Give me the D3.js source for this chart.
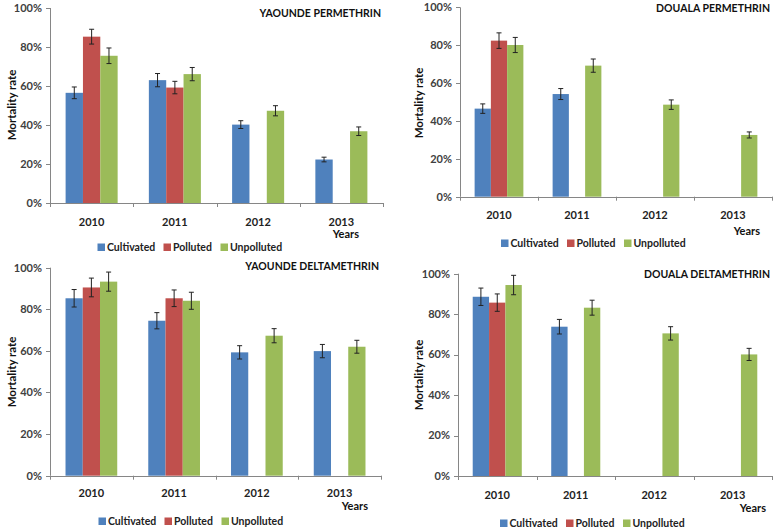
<!DOCTYPE html>
<html><head><meta charset="utf-8">
<script src="https://cdn.jsdelivr.net/npm/d3@7"></script>
<style>
body{margin:0;background:#fff;}
svg{display:block;font-family:Lato,"Open Sans",sans-serif;}
</style></head>
<body><svg id="c" width="778" height="530"></svg>
<script>
const years = ["2010","2011","2012","2013"];
const seriesNames = ["Cultivated","Polluted","Unpolluted"];
const seriesColors = ["#4F81BD","#C0504D","#9BBB59"];
const yTicks = [0,0.2,0.4,0.6,0.8,1.0];
const titles = ["YAOUNDE PERMETHRIN","DOUALA PERMETHRIN","YAOUNDE DELTAMETHRIN","DOUALA DELTAMETHRIN"];

// Yaounde Permethrin
const ypCultivated = [0.565,0.630,0.402,0.223];
const ypPolluted   = [0.853,0.592,null,null];
const ypUnpolluted = [0.755,0.661,0.473,0.368];
const ypCultErr = [0.030,0.034,0.020,0.012];
const ypPollErr = [0.038,0.032,null,null];
const ypUnpErr  = [0.040,0.034,0.026,0.022];
// Douala Permethrin
const dpCultivated = [0.465,0.542,null,null];
const dpPolluted   = [0.824,null,null,null];
const dpUnpolluted = [0.801,0.692,0.486,0.326];
const dpCultErr = [0.025,0.029,null,null];
const dpPollErr = [0.041,null,null,null];
const dpUnpErr  = [0.040,0.035,0.025,0.016];
// Yaounde Deltamethrin
const ydCultivated = [0.853,0.745,0.593,0.599];
const ydPolluted   = [0.905,0.853,null,null];
const ydUnpolluted = [0.933,0.841,0.673,0.620];
const ydCultErr = [0.042,0.039,0.032,0.032];
const ydPollErr = [0.045,0.040,null,null];
const ydUnpErr  = [0.046,0.041,0.034,0.031];
// Douala Deltamethrin
const ddCultivated = [0.886,0.738,null,null];
const ddPolluted   = [0.857,null,null,null];
const ddUnpolluted = [0.944,0.832,0.705,0.601];
const ddCultErr = [0.043,0.036,null,null];
const ddPollErr = [0.043,null,null,null];
const ddUnpErr  = [0.048,0.037,0.033,0.030];

const panelData = [
  {vals:[ypCultivated,ypPolluted,ypUnpolluted], errs:[ypCultErr,ypPollErr,ypUnpErr]},
  {vals:[dpCultivated,dpPolluted,dpUnpolluted], errs:[dpCultErr,dpPollErr,dpUnpErr]},
  {vals:[ydCultivated,ydPolluted,ydUnpolluted], errs:[ydCultErr,ydPollErr,ydUnpErr]},
  {vals:[ddCultivated,ddPolluted,ddUnpolluted], errs:[ddCultErr,ddPollErr,ddUnpErr]}
];

// layout (pixel geometry per panel)
const layout = [
  {x0:50, x1:383, yTop:8,     yBot:203,  titleY:17,  tickY:222, yearsY:234, yearsX:359, legY:247, legX:97.5, ylabX:12,  ylabY:105},
  {x0:460,x1:772, yTop:7.3,   yBot:196.7,titleY:12,  tickY:215, yearsY:231, yearsX:760, legY:243, legX:501,  ylabX:419, ylabY:103},
  {x0:50, x1:381, yTop:267.7, yBot:475.7,titleY:270, tickY:493, yearsY:506, yearsX:368, legY:521, legX:98.5, ylabX:12,  ylabY:372},
  {x0:458,x1:772, yTop:273.7, yBot:476,  titleY:278, tickY:495, yearsY:508, yearsX:766, legY:523, legX:500,  ylabX:419, ylabY:375}
];

const svg = d3.select("#c");
const axisColor = "#868686";

layout.forEach((L, pi) => {
  const g = svg.append("g");
  const D = panelData[pi];
  const x = d3.scaleBand().domain(years).range([L.x0, L.x1]).paddingInner(0.375).paddingOuter(0.1875);
  const xs = d3.scaleBand().domain(seriesNames).range([0, x.bandwidth()]);
  const y = d3.scaleLinear().domain([0,1]).range([L.yBot, L.yTop]);

  // y axis
  g.append("line").attr("x1",L.x0+0.5).attr("x2",L.x0+0.5).attr("y1",y(0)).attr("y2",y(1)).attr("stroke",axisColor);
  g.selectAll(".yt").data(yTicks).enter().append("line")
    .attr("x1",L.x0-4).attr("x2",L.x0).attr("y1",d=>Math.round(y(d))+0.5).attr("y2",d=>Math.round(y(d))+0.5).attr("stroke",axisColor);
  g.selectAll(".yl").data(yTicks).enter().append("text")
    .attr("x",L.x0-8).attr("y",d=>y(d)).attr("dy","0.35em").attr("text-anchor","end")
    .attr("font-size",11).attr("font-weight","bold").attr("fill","#404040")
    .text(d=>d3.format(".0%")(d));

  // x axis
  g.append("line").attr("x1",L.x0).attr("x2",L.x1).attr("y1",Math.round(y(0))+0.5).attr("y2",Math.round(y(0))+0.5).attr("stroke",axisColor);
  const bounds = d3.range(years.length+1).map(i => L.x0 + i*x.step());
  g.selectAll(".xt").data(bounds).enter().append("line")
    .attr("x1",d=>Math.round(d)+0.5).attr("x2",d=>Math.round(d)+0.5).attr("y1",y(0)).attr("y2",y(0)+4).attr("stroke",axisColor);
  g.selectAll(".xl").data(years).enter().append("text")
    .attr("x",d=>x(d)+x.bandwidth()/2).attr("y",L.tickY).attr("dy","0.35em").attr("text-anchor","middle")
    .attr("font-size",11).attr("font-weight","bold").attr("fill","#222").text(d=>d);

  // bars
  seriesNames.forEach((s, si) => {
    const pts = years.map((yr,i)=>({yr, v:D.vals[si][i], e:D.errs[si][i]})).filter(d=>d.v!=null);
    g.selectAll(".b"+si).data(pts).enter().append("rect")
      .attr("x",d=>x(d.yr)+xs(s)).attr("width",xs.bandwidth())
      .attr("y",d=>y(d.v)).attr("height",d=>y(0)-y(d.v)).attr("fill",seriesColors[si]);
    const eg = g.selectAll(".e"+si).data(pts).enter().append("g");
    const cx = d => x(d.yr)+xs(s)+xs.bandwidth()/2;
    eg.append("line").attr("x1",cx).attr("x2",cx).attr("y1",d=>y(d.v+d.e)).attr("y2",d=>y(d.v-d.e)).attr("stroke","#222").attr("stroke-width",1);
    eg.append("line").attr("x1",d=>cx(d)-2.5).attr("x2",d=>cx(d)+2.5).attr("y1",d=>y(d.v+d.e)).attr("y2",d=>y(d.v+d.e)).attr("stroke","#222");
    eg.append("line").attr("x1",d=>cx(d)-2.5).attr("x2",d=>cx(d)+2.5).attr("y1",d=>y(d.v-d.e)).attr("y2",d=>y(d.v-d.e)).attr("stroke","#222");
  });

  // title
  g.append("text").attr("x",L.x1-2).attr("y",L.titleY).attr("text-anchor","end")
    .attr("font-size",10.5).attr("font-weight","bold").attr("fill","#111").text(titles[pi]);
  // Years
  g.append("text").attr("x",L.yearsX).attr("y",L.yearsY).attr("dy","0.35em").attr("text-anchor","end")
    .attr("font-size",11).attr("font-weight","bold").attr("fill","#111").text("Years");
  // y label
  g.append("text").attr("transform",`translate(${L.ylabX},${L.ylabY}) rotate(-90)`).attr("text-anchor","middle")
    .attr("dy","0.35em").attr("font-size",11.5).attr("font-weight","bold").attr("fill","#111").text("Mortality rate");
  // legend
  const legOff = [0, 66, 123];
  seriesNames.forEach((s, si) => {
    const lx = L.legX + legOff[si];
    g.append("rect").attr("x",lx).attr("y",L.legY-3.5).attr("width",7.5).attr("height",7.5).attr("fill",seriesColors[si]);
    g.append("text").attr("x",lx+9.5).attr("y",L.legY).attr("dy","0.35em").attr("font-size",10.5).attr("font-weight","bold").attr("fill","#222").text(s);
  });
});
</script></body></html>
